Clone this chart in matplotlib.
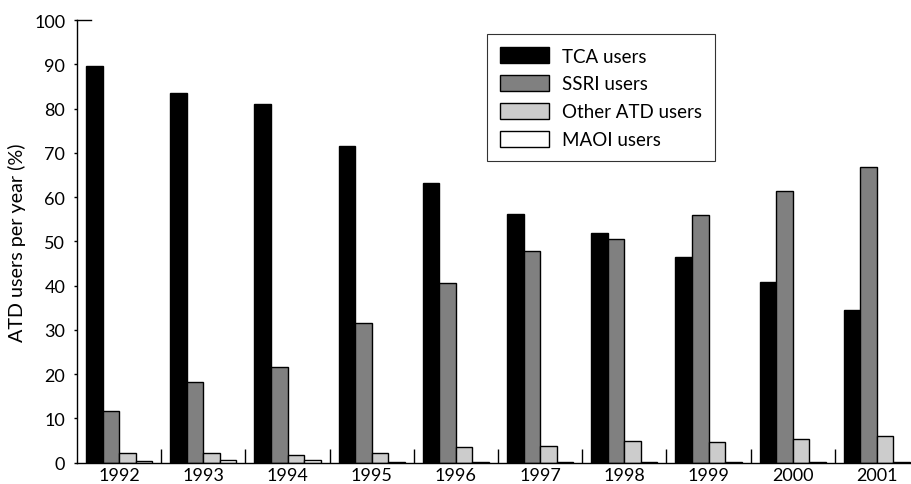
import numpy as np
import matplotlib.pyplot as plt

years = ['1992', '1993', '1994', '1995', '1996', '1997', '1998', '1999', '2000', '2001']
tca = [89.5, 83.4, 81.0, 71.6, 63.2, 56.2, 51.9, 46.5, 40.8, 34.4]
ssri = [11.6, 18.2, 21.7, 31.6, 40.7, 47.8, 50.5, 56.0, 61.3, 66.8]
other = [2.3, 2.1, 1.8, 2.3, 3.5, 3.8, 4.9, 4.7, 5.3, 6.0]
maoi = [0.3, 0.55, 0.5, 0.2, 0.2, 0.2, 0.2, 0.2, 0.2, 0.2]

series = [('TCA users', tca, '#000000'),
          ('SSRI users', ssri, '#808080'),
          ('Other ATD users', other, '#cccccc'),
          ('MAOI users', maoi, '#ffffff')]

plt.rcParams['font.family'] = ['Lato', 'DejaVu Sans']
plt.rcParams['font.size'] = 13

W, H = 911, 485
fig = plt.figure(figsize=(W / 100, H / 100), dpi=100)
# axes run a little past the right edge, like the original cropped figure
ax = fig.add_axes([77 / W, 21.3 / H, 842 / W, 442.7 / H])

x = np.arange(len(years))
bw = 0.196
handles = []
for i, (name, vals, col) in enumerate(series):
    b = ax.bar(x - 1.5 * bw + i * bw, vals, bw, color=col,
               edgecolor='black', linewidth=1.0, label=name)
    handles.append(b)

ax.set_xlim(-0.5, 9.5)
ax.set_ylim(0, 100)
ax.set_yticks(np.arange(0, 101, 10))
ax.set_xticks(x)
ax.set_xticklabels(years)
ax.set_xticks(np.arange(0.5, 9.5, 1), minor=True)
ax.tick_params(axis='x', which='major', length=0, pad=3)
ax.tick_params(axis='x', which='minor', direction='in', length=10, width=1)
ax.tick_params(axis='y', length=2.5, width=1, pad=6)

for s in ['top', 'right']:
    ax.spines[s].set_visible(False)
for s in ['left', 'bottom']:
    ax.spines[s].set_linewidth(1.0)

# short inward tick at the top of the y axis
ax.plot([-0.5, -0.33], [100, 100], color='black', lw=1.0, clip_on=False)

ax.set_ylabel('ATD users per year (%)', fontsize=14.2, labelpad=6)

leg = fig.legend(handles=handles, loc='upper left', fontsize=13.5,
                 bbox_to_anchor=(486.7 / W, 1 - 35 / H), borderaxespad=0,
                 frameon=True, fancybox=False, edgecolor='black',
                 handlelength=2.6, handleheight=0.95, handletextpad=0.7,
                 labelspacing=0.55, borderpad=0.7)
leg.get_frame().set_linewidth(0.8)

fig.savefig('out.png', dpi=100)
